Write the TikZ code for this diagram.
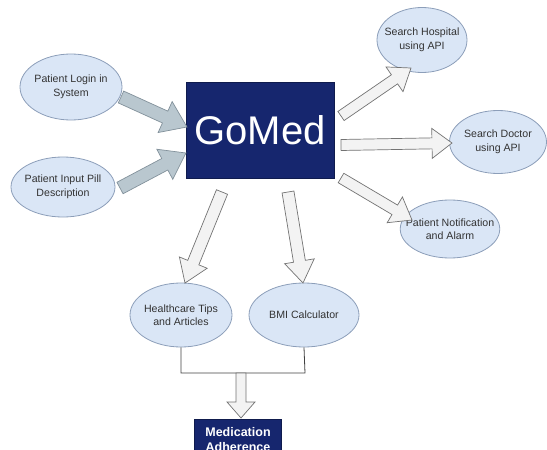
\documentclass[tikz,border=0pt]{standalone}
\usepackage{fontspec}
\setmainfont{Liberation Sans}
\usetikzlibrary{calc,shapes.geometric}
\definecolor{navy}{RGB}{22,38,110}
\definecolor{ellfill}{RGB}{218,230,246}
\definecolor{elldraw}{RGB}{140,158,185}
\definecolor{arrfillA}{RGB}{185,199,207}
\definecolor{arrdrawA}{RGB}{130,145,155}
\definecolor{arrfillB}{RGB}{243,243,243}
\definecolor{arrdrawB}{RGB}{115,115,115}
\tikzset{
  oval/.style={ellipse, draw=elldraw, fill=ellfill, line width=0.8pt,
    inner xsep=-9pt, inner ysep=-2pt, align=center,
    font=\fontsize{10.6}{13.5}\selectfont, text=black!80},
  navybox/.style={rectangle, draw=navy!70!black, fill=navy, text=white, inner sep=0pt},
  fatA/.style={draw=arrdrawA, fill=arrfillA, line width=0.7pt, line join=miter},
  fatB/.style={draw=arrdrawB, fill=arrfillB, line width=0.7pt, line join=miter},
  link/.style={draw=black!75, line width=0.8pt}
}
% #1 style, #2 tail, #3 tip, #4 shaft half width, #5 head half width, #6 head length
\newcommand{\gmArrow}[6]{%
  \path[#1] let \p1=(#2), \p2=(#3),
      \n1={atan2(\y2-\y1,\x2-\x1)}, \n2={veclen(\x2-\x1,\y2-\y1)} in
    [shift={(\p1)}, rotate=\n1]
    (0,-#4) -- ({\n2-#6},-#4) -- ({\n2-#6},-#5) -- (\n2,0)
    -- ({\n2-#6},#5) -- ({\n2-#6},#4) -- (0,#4) -- cycle;}
\begin{document}
\begin{tikzpicture}[x=1pt,y=-1pt]
\useasboundingbox (0,0) rectangle (547,450);
\clip (0,0) rectangle (547,450);

% main box
\node[navybox, minimum width=148pt, minimum height=96pt] (gomed) at (260,130)
  {\fontsize{40}{40}\selectfont GoMed};

% ellipses
\node[oval, minimum width=102pt, minimum height=66pt] (login) at (71,87)
  {Patient Login in\\System};
\node[oval, minimum width=104pt, minimum height=60pt] (pill) at (63,187)
  {Patient Input Pill\\Description};
\node[oval, minimum width=90pt, minimum height=65pt] (hosp) at (422,40)
  {Search Hospital\\using API};
\node[oval, minimum width=97pt, minimum height=63pt] (doc) at (498,142)
  {Search Doctor\\using API};
\node[oval, minimum width=96pt, minimum height=58pt] (notif) at (450,229)
  {Patient Notification\\and Alarm};
\node[oval, minimum width=102pt, minimum height=64pt] (tips) at (181,315)
  {Healthcare Tips\\and Articles};
\node[oval, minimum width=110pt, minimum height=64pt] (bmi) at (304,315)
  {BMI Calculator};

% medication box
\node[navybox, minimum width=87pt, minimum height=40pt, anchor=north,
  align=center, font=\bfseries\fontsize{12.5}{15}\selectfont] (med) at (238,419)
  {Medication\\Adherence};

% arrow end coordinates
\coordinate (t1) at (121,97);  \coordinate (h1) at (187,127);
\coordinate (t2) at (120,188); \coordinate (h2) at (186,153);
\coordinate (t3) at (341,116); \coordinate (h3) at (411,68);
\coordinate (t4) at (341,145); \coordinate (h4) at (452,143);
\coordinate (t5) at (341,178); \coordinate (h5) at (412,220);
\coordinate (t6) at (222,192); \coordinate (h6) at (185,283);
\coordinate (t7) at (288,192); \coordinate (h7) at (303,283);

\gmArrow{fatA}{t1}{h1}{6.5}{17}{24}
\gmArrow{fatA}{t2}{h2}{6.5}{17}{24}
\gmArrow{fatB}{t3}{h3}{5.5}{15}{20}
\gmArrow{fatB}{t4}{h4}{5.5}{15}{20}
\gmArrow{fatB}{t5}{h5}{5.5}{15}{20}
\gmArrow{fatB}{t6}{h6}{6}{15}{22}
\gmArrow{fatB}{t7}{h7}{6}{15}{22}

% join lines
\coordinate (jl) at (181,373);
\coordinate (jr) at (305,373);
\coordinate (jm) at (241,373);
\draw[link] (tips.south) -- (jl) -- (jr) -- (bmi.south);
\coordinate (h8) at (241,418);
\gmArrow{fatB}{jm}{h8}{5}{14}{16}
\end{tikzpicture}
\end{document}
